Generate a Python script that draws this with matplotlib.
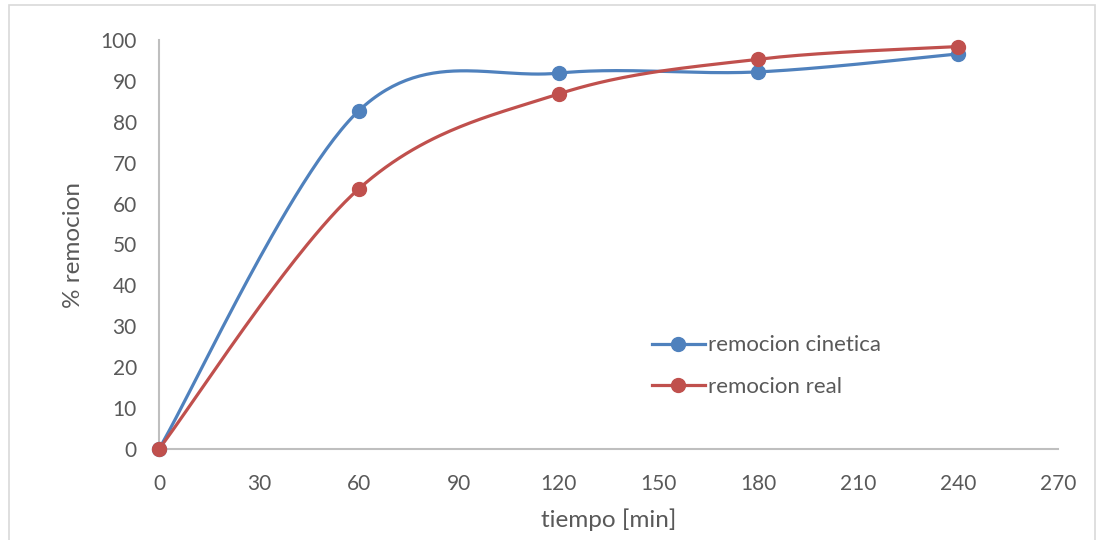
import numpy as np
import matplotlib
matplotlib.use("Agg")
import matplotlib.pyplot as plt
from matplotlib.patches import Rectangle

plt.rcParams['font.family'] = ['Lato', 'DejaVu Sans']

tiempo = [0, 60, 120, 180, 240]
remocion_cinetica = [0, 82.7, 91.9, 92.2, 96.6]
remocion_real = [0, 63.6, 86.8, 95.3, 98.4]

x_ticks = [0, 30, 60, 90, 120, 150, 180, 210, 240, 270]
y_ticks = [0, 10, 20, 30, 40, 50, 60, 70, 80, 90, 100]

BLUE = "#4F81BD"
RED = "#C0504D"
TEXT = "#595959"
AXIS = "#BFBFBF"


def smooth(xs, ys, n=60):
    """Bezier smoothing through every point (Catmull-Rom style tangents)."""
    p = np.column_stack([xs, ys]).astype(float)
    m = len(p)
    out = []
    for i in range(m - 1):
        p0 = p[i - 1] if i > 0 else p[i]
        p1, p2 = p[i], p[i + 1]
        p3 = p[i + 2] if i + 2 < m else p[i + 1]
        c1 = p1 + (p2 - p0) / 6.0
        c2 = p2 - (p3 - p1) / 6.0
        t = np.linspace(0, 1, n)[:, None]
        seg = ((1 - t) ** 3 * p1 + 3 * (1 - t) ** 2 * t * c1
               + 3 * (1 - t) * t ** 2 * c2 + t ** 3 * p2)
        out.append(seg if i == 0 else seg[1:])
    s = np.vstack(out)
    return s[:, 0], s[:, 1]


fig = plt.figure(figsize=(10.97, 5.40), dpi=100)
fig.patches.append(Rectangle((9 / 1097, -0.01), (1095 - 9) / 1097, (535 + 0.01 * 540) / 540,
                             transform=fig.transFigure, fill=False,
                             edgecolor="#D9D9D9", linewidth=1.2))

ax = fig.add_axes([159 / 1097, 91 / 540, (1058 - 159) / 1097, (449 - 40) / 540])

for ys, color, label in [(remocion_cinetica, BLUE, "remocion cinetica"),
                         (remocion_real, RED, "remocion real")]:
    sx, sy = smooth(tiempo, ys)
    ax.plot(sx, sy, color=color, linewidth=2.3, solid_capstyle="round", zorder=2)
    ax.plot(tiempo, ys, linestyle="none", marker="o", markersize=10,
            color=color, zorder=3)
    ax.plot([], [], color=color, linewidth=2.3, marker="o", markersize=10, label=label)

ax.set_xlim(0, 270)
ax.set_ylim(0, 100)
ax.set_xticks(x_ticks)
ax.set_yticks(y_ticks)
ax.tick_params(axis="both", length=0, labelsize=15, colors=TEXT)
ax.tick_params(axis="x", pad=18)
ax.tick_params(axis="y", pad=16)

for side in ["top", "right"]:
    ax.spines[side].set_visible(False)
for side in ["left", "bottom"]:
    ax.spines[side].set_color(AXIS)
    ax.spines[side].set_linewidth(1.5)

ax.set_xlabel("tiempo [min]", fontsize=17.5, color=TEXT, labelpad=10)
ax.set_ylabel("% remocion", fontsize=17.5, color=TEXT, labelpad=12)

leg = ax.legend(loc="center left", bbox_to_anchor=(0.548, 0.203), frameon=False,
                fontsize=16, labelcolor=TEXT, handlelength=2.4,
                handletextpad=0.15, labelspacing=0.95,
                borderpad=0, borderaxespad=0)

for line in ax.lines:
    line.set_clip_on(False)

fig.savefig("out.png", dpi=100)
